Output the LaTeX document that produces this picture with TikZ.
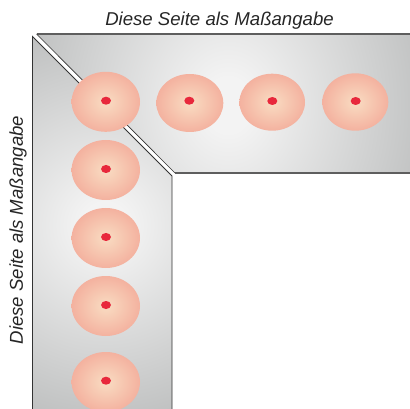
\documentclass[tikz,border=0pt]{standalone}
\usepackage{fontspec}
\setmainfont{Liberation Sans}
\definecolor{plC}{HTML}{F3F3F3}
\definecolor{plE}{HTML}{ABADAD}
\definecolor{padC}{HTML}{F9DCC2}
\definecolor{padE}{HTML}{F2A494}
\definecolor{dotred}{HTML}{E8283C}
\definecolor{edgegrey}{HTML}{5E5E5E}
\definecolor{edgedark}{HTML}{333333}
\pgfdeclareradialshading{plate}{\pgfpoint{0bp}{0bp}}{
  color(0bp)=(plC); color(3bp)=(plC); color(35.3bp)=(plE); color(100bp)=(plE)}
\pgfdeclareradialshading{pad}{\pgfpoint{0bp}{0bp}}{
  color(0bp)=(padC); color(33bp)=(padE); color(100bp)=(padE)}
\tikzset{
  every node/.style={inner sep=0pt,outer sep=0pt},
  platepart/.style={shading=plate},
  topedge/.style={draw=edgegrey,line width=1.1pt,line join=miter},
  leftedge/.style={draw=edgedark,line width=0.9pt,line join=miter},
  diagedge/.style={draw=edgedark,line width=0.6pt},
  redspot/.style={fill=dotred,draw=none},
  caption/.style={font=\itshape\fontsize{18.6}{20}\selectfont,text=black!85}
}
% ellipse centre x,y; radii x,y; dot centre x,y
\newcommand{\padat}[6]{%
  \shade[shading=pad] (#1,#2) ellipse [x radius=#3,y radius=#4];
  \fill[redspot] (#5,#6) ellipse [x radius=5,y radius=4];}
\begin{document}
\begin{tikzpicture}[x=1pt,y=-1pt]
\useasboundingbox (0,0) rectangle (410,409);
% top strip
\begin{scope}
  \clip (36.5,34) -- (410,34) -- (410,173) -- (175,173) -- cycle;
  \shade[platepart] (33,-125) rectangle (423,335);
\end{scope}
\draw[topedge] (410,34) -- (36.5,34);
\draw[topedge] (175,173) -- (410,173);
\draw[diagedge] (36.5,34) -- (175,173);
% left strip
\begin{scope}
  \clip (32.5,36.5) -- (172,176) -- (172,409) -- (32.5,409) -- cycle;
  \shade[platepart] (-85,35) rectangle (295,415);
\end{scope}
\draw[leftedge] (32.5,409) -- (32.5,36.5) -- (172,176) -- (172,409);
% pads
\padat{105.8}{101.8}{34.2}{30}{106}{100.7}
\padat{189.8}{103}{33.5}{29}{189.3}{100.7}
\padat{272.2}{102.2}{32.8}{28.5}{272.3}{101}
\padat{355.3}{102}{33}{28.7}{355.7}{101}
\padat{105.8}{170}{34.2}{30}{106}{169}
\padat{105.8}{238}{34.2}{30}{106}{237}
\padat{105.8}{306}{34.2}{30}{106}{305}
\padat{105.8}{382}{34.2}{30}{106}{380.7}
% labels
\node[caption] (toplabel) at (219.5,20.5) {Diese Seite als Maßangabe};
\node[caption,rotate=90] (leftlabel) at (18,230) {Diese Seite als Maßangabe};
\end{tikzpicture}
\end{document}
